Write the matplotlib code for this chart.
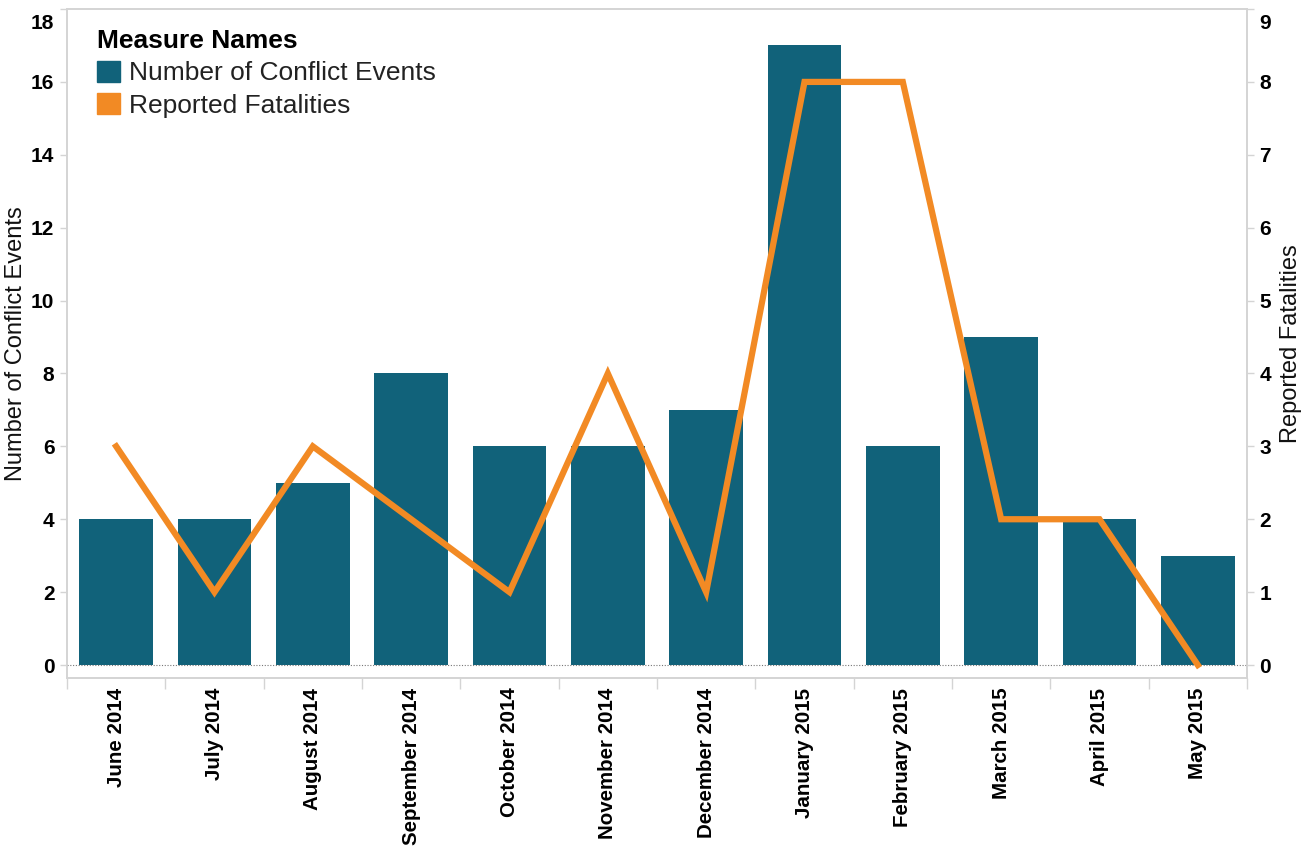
import matplotlib
matplotlib.use("Agg")
import matplotlib.pyplot as plt
import matplotlib.patches as mpatches
import matplotlib.transforms as mtransforms
import numpy as np

# monthly data
months = ["June 2014", "July 2014", "August 2014", "September 2014", "October 2014",
          "November 2014", "December 2014", "January 2015", "February 2015",
          "March 2015", "April 2015", "May 2015"]
conflict_events = [4, 4, 5, 8, 6, 6, 7, 17, 6, 9, 4, 3]
fatalities = [3, 1, 3, 2, 1, 4, 1, 8, 8, 2, 2, 0]

plt.rcParams['font.family'] = ['Liberation Sans', 'DejaVu Sans']

bar_color = "#11627a"
line_color = "#f28a24"
grid_grey = "#d4d4d4"

fig = plt.figure(figsize=(13.06, 8.52), dpi=100)
ax = fig.add_axes([0.0513, 0.2042, 0.9035, 0.7852])
x = np.arange(len(months))

ax.bar(x, conflict_events, width=0.75, color=bar_color, zorder=2)
ax.axhline(0, color="#777777", lw=0.8, ls=(0, (1, 1.5)), zorder=3)
ax.set_xlim(-0.5, len(months) - 0.5)
ax.set_ylim(-0.357, 18)
ax.set_yticks(range(0, 19, 2))
ax.set_ylabel("Number of Conflict Events", fontsize=17, labelpad=3, color="#111111")

ax.set_xticks(x)
ax.set_xticklabels(months, rotation=90, fontsize=14.8, fontweight="bold")
ax.tick_params(axis="x", length=0, pad=7)
ax.set_xticks(np.arange(-0.5, len(months)), minor=True)
ax.tick_params(axis="x", which="minor", length=8, color=grid_grey, width=1)
ax.tick_params(axis="y", labelsize=15, length=5, color=grid_grey, width=1, pad=4)
for lab in ax.get_yticklabels():
    lab.set_fontweight("bold")

for side in ["left", "right", "top", "bottom"]:
    ax.spines[side].set_color(grid_grey)
    ax.spines[side].set_linewidth(1.2)

ax2 = ax.twinx()
ax2.plot(x, fatalities, color=line_color, lw=4.5, solid_joinstyle="miter", zorder=4)
ax2.set_ylim(-0.1785, 9)
ax2.set_yticks(range(0, 10))
ax2.tick_params(axis="y", labelsize=15, length=5, color=grid_grey, width=1, pad=4)
for lab in ax2.get_yticklabels():
    lab.set_fontweight("bold")
ax2.set_ylabel("Reported Fatalities", fontsize=17, labelpad=6, color="#111111")
for side in ["left", "right", "top", "bottom"]:
    ax2.spines[side].set_color(grid_grey)
    ax2.spines[side].set_linewidth(1.2)

# top tick labels sit a bit below the top edge, as in the original
shift = mtransforms.ScaledTranslation(0, -9 / 72, fig.dpi_scale_trans)
for lab in [ax.get_yticklabels()[-1], ax2.get_yticklabels()[-1]]:
    lab.set_transform(lab.get_transform() + shift)

handles = [mpatches.Patch(color=bar_color, label="Number of Conflict Events"),
           mpatches.Patch(color=line_color, label="Reported Fatalities")]
leg = ax2.legend(handles=handles, loc="upper left", bbox_to_anchor=(0.01, 0.998),
                 title="Measure Names", fontsize=19,
                 title_fontproperties={"weight": "bold", "size": 19},
                 frameon=False, handlelength=0.85, handleheight=0.85, handletextpad=0.35,
                 labelspacing=0.3, borderpad=0.2)
leg._legend_box.align = "left"
for t in leg.get_texts():
    t.set_color("#222222")

fig.savefig("out.png", dpi=100)
